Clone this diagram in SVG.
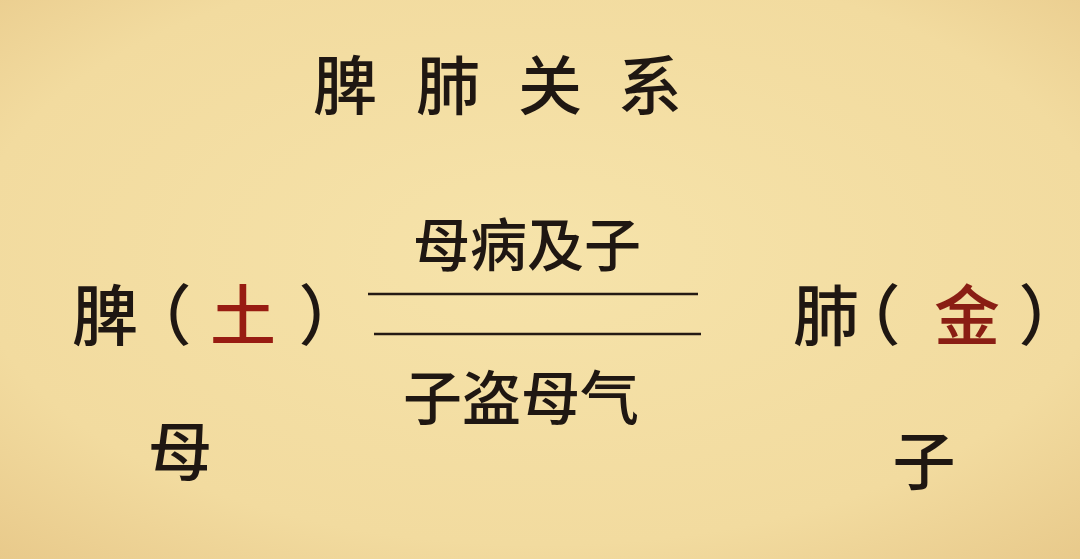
<svg xmlns="http://www.w3.org/2000/svg" width="1080" height="559" viewBox="0 0 1080 559">
<defs>
<radialGradient id="bg" cx="50%" cy="45%" r="75%">
<stop offset="0" stop-color="#f6e3aa"/>
<stop offset="0.7" stop-color="#f2db9f"/>
<stop offset="1" stop-color="#e8c98a"/>
</radialGradient>
<style>
.t{font-family:"Noto Sans CJK SC","Noto Sans CJK TC",sans-serif;fill:#1f1712;font-weight:500}
.p{font-feature-settings:"halt"}
.red{fill:#981c12}
.rust{fill:#8a1e14}
.ln{stroke:#241a14;stroke-width:2.5;fill:none}
</style>
</defs>
<rect width="1080" height="559" fill="url(#bg)"/>
<g id="title"><text class="t" x="345 448 550 650" y="109" font-size="64" text-anchor="middle">脾肺关系</text></g>
<g id="spleen">
<text class="t p" x="105 175 243 315" y="340" font-size="66" text-anchor="middle">脾（<tspan class="red">土</tspan>）</text>
<text class="t" x="180" y="475" font-size="64" text-anchor="middle">母</text>
</g>
<g id="lung">
<text class="t p" x="826 884 967 1035" y="340" font-size="66" text-anchor="middle">肺（<tspan class="rust">金</tspan>）</text>
<text class="t" x="924" y="484" font-size="63" text-anchor="middle">子</text>
</g>
<g id="connectors">
<line class="ln" x1="368" y1="294" x2="698" y2="294"/>
<line class="ln" x1="374" y1="334" x2="701" y2="334"/>
</g>
<g id="labels">
<text class="t" x="527" y="266" font-size="57" text-anchor="middle">母病及子</text>
<text class="t" x="521" y="420" font-size="59" text-anchor="middle">子盗母气</text>
</g>
</svg>
